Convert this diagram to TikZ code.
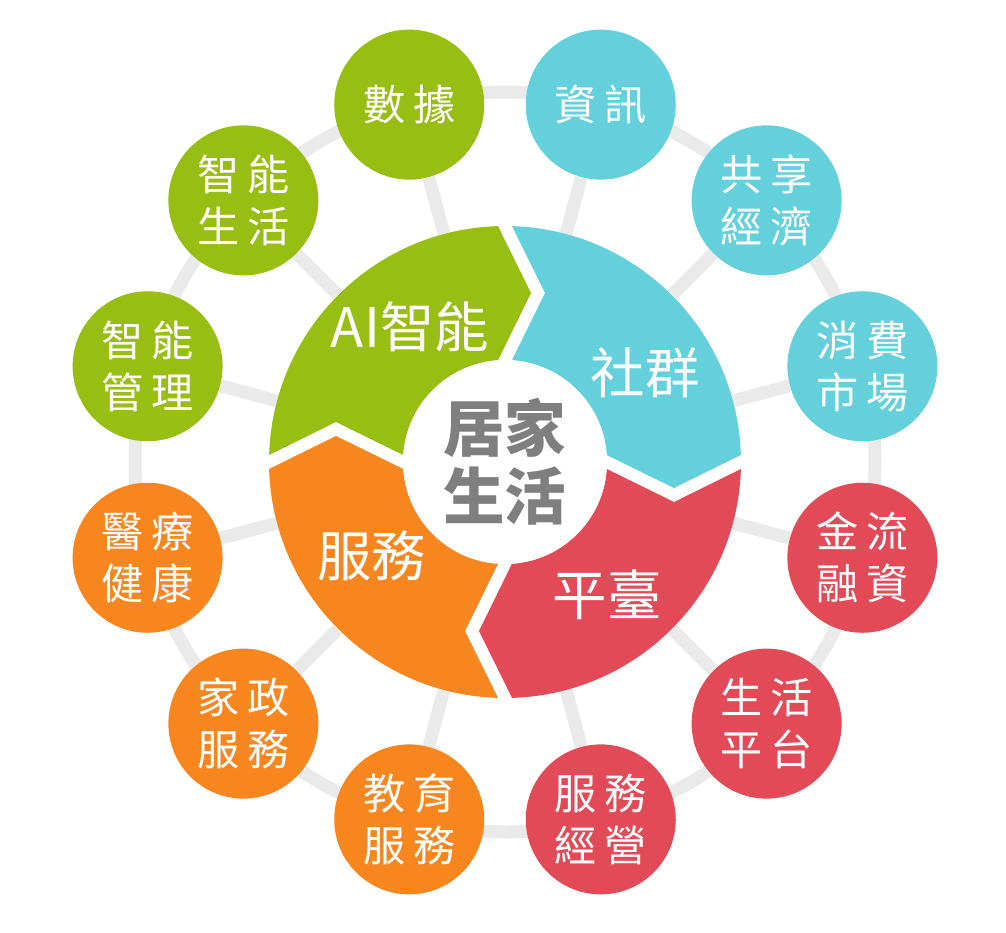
\documentclass[tikz,border=0pt]{standalone}
\usepackage{fontspec}
\setmainfont{Noto Sans CJK TC}
\usepackage{tikz}
\usetikzlibrary{positioning,backgrounds}
\definecolor{leafgreen}{RGB}{152,190,19}
\definecolor{skycyan}{RGB}{99,208,219}
\definecolor{rosered}{RGB}{227,74,88}
\definecolor{sunorange}{RGB}{247,134,31}
\definecolor{hubgray}{RGB}{127,127,127}
\definecolor{linkgray}{RGB}{234,234,234}

% one quarter of the arrow ring, turned by #1
\newcommand{\ringpart}[2]{%
  \fill[#2,rotate=#1] (178.3:4.72) arc[start angle=178.3,end angle=91.7,radius=4.72]
    -- (0.52,3.38) -- (93.9:2.04) arc[start angle=93.9,end angle=176.1,radius=2.04]
    -- (-3.38,0.8) -- cycle;}

\begin{document}
\begin{tikzpicture}[x=1cm,y=1cm]
  \tikzset{
    topic/.style={circle,minimum size=3cm,inner sep=0pt,text=white,align=center,
      font=\fontsize{24}{29.6}\selectfont\addfontfeatures{LetterSpace=18}},
    seglabel/.style={text=white,inner sep=1pt,font=\fontsize{31}{36}\selectfont},
    hub/.style={circle,fill=white,minimum size=4.08cm,inner sep=0pt,text=hubgray,align=center,
      font=\fontsize{35}{38.6}\selectfont\bfseries},
    link/.style={draw=linkgray,line width=0.26cm}
  }
  \useasboundingbox (-10.1,-9.4) rectangle (10.02,9.24);
  % arrow ring
  \ringpart{0}{leafgreen}
  \ringpart{-90}{skycyan}
  \ringpart{-180}{rosered}
  \ringpart{-270}{sunorange}
  \node[circle,minimum size=9.44cm,inner sep=0pt] (wheel) at (0,0) {};
  \node[hub] (core) at (0,0) {居家\\生活};
  \node[seglabel] (ai) at (-1.9,2.7) {AI智能};
  \node[seglabel] (social) at (2.8,1.78) {社群};
  \node[seglabel] (platform) at (2.04,-2.66) {平臺};
  \node[seglabel] (service) at (-2.66,-1.88) {服務};
  % outer circles
  \node[topic,fill=skycyan] (info) at (75:7.4) {資訊};
  \node[topic,fill=skycyan] (sharing) at (45:7.4) {共享\\經濟};
  \node[topic,fill=skycyan] (market) at (15:7.4) {消費\\市場};
  \node[topic,fill=rosered] (finance) at (-15:7.4) {金流\\融資};
  \node[topic,fill=rosered] (lifeplat) at (-45:7.4) {生活\\平台};
  \node[topic,fill=rosered] (bizop) at (-75:7.4) {服務\\經營};
  \node[topic,fill=sunorange] (edu) at (-105:7.4) {教育\\服務};
  \node[topic,fill=sunorange] (house) at (-135:7.4) {家政\\服務};
  \node[topic,fill=sunorange] (health) at (-165:7.4) {醫療\\健康};
  \node[topic,fill=leafgreen] (smartmgmt) at (165:7.4) {智能\\管理};
  \node[topic,fill=leafgreen] (smartlife) at (135:7.4) {智能\\生活};
  \node[topic,fill=leafgreen] (data) at (105:7.4) {數據};
  % gray ring and spokes behind
  \begin{scope}[on background layer]
    \draw[link] (wheel.center) circle[radius=7.4];
    \draw[link] (wheel) -- (info);
    \draw[link] (wheel) -- (sharing);
    \draw[link] (wheel) -- (market);
    \draw[link] (wheel) -- (finance);
    \draw[link] (wheel) -- (lifeplat);
    \draw[link] (wheel) -- (bizop);
    \draw[link] (wheel) -- (edu);
    \draw[link] (wheel) -- (house);
    \draw[link] (wheel) -- (health);
    \draw[link] (wheel) -- (smartmgmt);
    \draw[link] (wheel) -- (smartlife);
    \draw[link] (wheel) -- (data);
  \end{scope}
\end{tikzpicture}
\end{document}
